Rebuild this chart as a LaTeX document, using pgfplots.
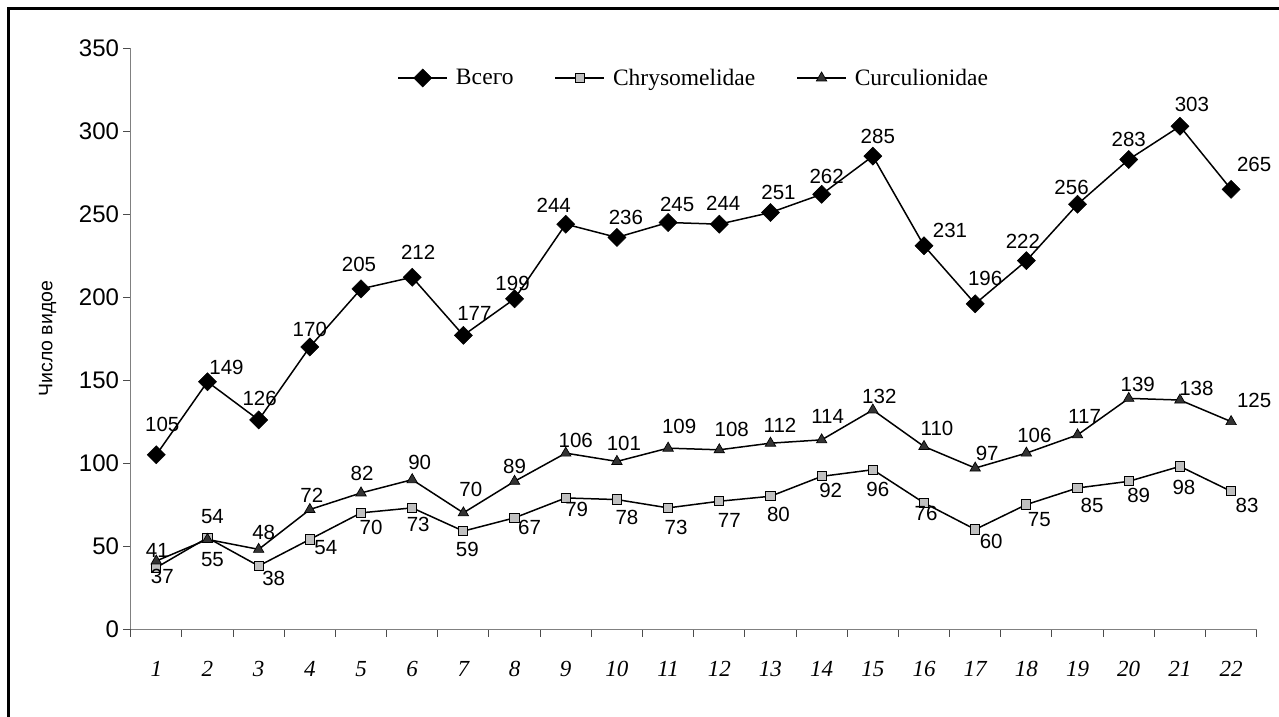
\documentclass[border=0pt]{standalone}
\usepackage{fontspec}
\setmainfont{Liberation Sans}
\newfontfamily\tnr{Liberation Serif}
\usepackage{pgfplots}
\usepackage{pgfplotstable}
\pgfplotsset{compat=1.18}

\pgfplotstableread{
x y dx dy
1 105 6 -30
2 149 19 -14
3 126 1 -22
4 170 0 -18
5 205 -2 -24
6 212 6 -25
7 177 11 -22
8 199 -2 -15
9 244 -12 -19
10 236 9 -20
11 245 9 -18.5
12 244 4 -21
13 251 8 -20
14 262 5 -18
15 285 5 -20
16 231 26 -15
17 196 10 -25
18 222 -3.5 -19
19 256 -6 -17
20 283 0 -20
21 303 12 -22
22 265 23 -25
}\tot

\pgfplotstableread{
x y dx dy
1 37 6 9
2 55 5 22
3 38 15 12
4 54 16 8
5 70 10 15
6 73 6 17
7 59 4 18
8 67 15 10
9 79 11 12
10 78 10 18
11 73 8 20
12 77 10 19.5
13 80 8 18
14 92 9 14
15 96 5 20
16 76 2 11
17 60 16 12
18 75 13 15
19 85 14.5 17
20 89 10 14
21 98 4 21
22 83 16 14
}\chr

\pgfplotstableread{
x y dx dy
1 41 1 -11
2 54 5 -23
3 48 5 -17
4 72 2 -14.5
5 82 1 -20
6 90 7.5 -17
7 70 7.5 -23
8 89 0 -15
9 106 10 -13
10 101 7 -18
11 109 11 -22
12 108 12.5 -20
13 112 9.5 -18
14 114 6 -23
15 132 6.5 -14
16 110 13 -18
17 97 12 -15
18 106 8 -18
19 117 7 -18
20 139 9 -14
21 138 16.5 -12
22 125 23 -21
}\cur

\definecolor{chrfill}{HTML}{C0C0C0}
\definecolor{curfill}{HTML}{333333}

\begin{document}
\begin{tikzpicture}
\path[use as bounding box] (-130.7bp,-88bp) rectangle (1148.3bp,629bp);
\draw[line width=3bp] (-122bp,-90bp) -- (-122bp,620.3bp) -- (1150bp,620.3bp);
\begin{axis}[
  at={(0,0)}, anchor=south west,
  scale only axis, width=1126bp, height=580.7bp,
  xmin=0.5, xmax=22.5, ymin=0, ymax=350,
  axis lines=left,
  axis line style={-, draw=gray, line width=1bp},
  clip=false,
  /pgf/number format/assume math mode=true,
  xtick={0.5,1.5,...,22.5},
  x tick label as interval,
  xticklabels={1,2,3,4,5,6,7,8,9,10,11,12,13,14,15,16,17,18,19,20,21,22},
  ytick={0,50,...,350},
  tick align=outside,
  major tick length=7.5bp,
  tick style={draw=black!70, line width=1bp},
  yticklabel style={font=\fontsize{24bp}{28bp}\selectfont, inner sep=0pt, xshift=-4bp},
  xticklabel style={font=\tnr\itshape\fontsize{23bp}{26bp}\selectfont, inner sep=0pt, yshift=-25bp},
  every axis y label/.style={at={(axis description cs:0,0.5)}, xshift=-83bp, rotate=90, anchor=center},
  ylabel={\fontsize{19.5bp}{23bp}\selectfont Число видое},
  legend columns=3,
  legend style={draw=none, fill=none, at={(0.5,0.9489)}, anchor=center,
    font=\tnr\fontsize{23.5bp}{27bp}\selectfont, inner sep=0pt,
    /tikz/every even column/.append style={column sep=39bp},
    /tikz/every odd column/.append style={column sep=6bp}},
  legend image code/.code={\draw[mark repeat=2, mark phase=2, #1] plot coordinates {(0bp,0bp) (24.5bp,0bp) (49bp,0bp)};},
  every node near coord/.append style={anchor=center, xshift=\dx bp, yshift=-\dy bp, font=\fontsize{20.5bp}{24bp}\selectfont, inner sep=0pt},
]
\addplot[black, line width=1.5bp, mark=square*, mark size=6.4bp,
  mark options={solid, rotate=45, fill=black, draw=black, line width=0.5bp},
  nodes near coords, point meta=explicit,
  visualization depends on={\thisrow{dx} \as \dx},
  visualization depends on={\thisrow{dy} \as \dy}]
  table[x=x, y=y, meta=y] {\tot};
\addlegendentry{Всего}
\addplot[black, line width=1.5bp, mark=square*, mark size=4.6bp,
  mark options={solid, fill=chrfill, draw=black, line width=1bp},
  nodes near coords, point meta=explicit,
  visualization depends on={\thisrow{dx} \as \dx},
  visualization depends on={\thisrow{dy} \as \dy}]
  table[x=x, y=y, meta=y] {\chr};
\addlegendentry{Chrysomelidae}
\addplot[black, line width=1.5bp, mark=triangle*, mark size=6bp,
  mark options={solid, fill=curfill, draw=black, line width=0.7bp},
  nodes near coords, point meta=explicit,
  visualization depends on={\thisrow{dx} \as \dx},
  visualization depends on={\thisrow{dy} \as \dy}]
  table[x=x, y=y, meta=y] {\cur};
\addlegendentry{Curculionidae}
\end{axis}
\end{tikzpicture}
\end{document}
